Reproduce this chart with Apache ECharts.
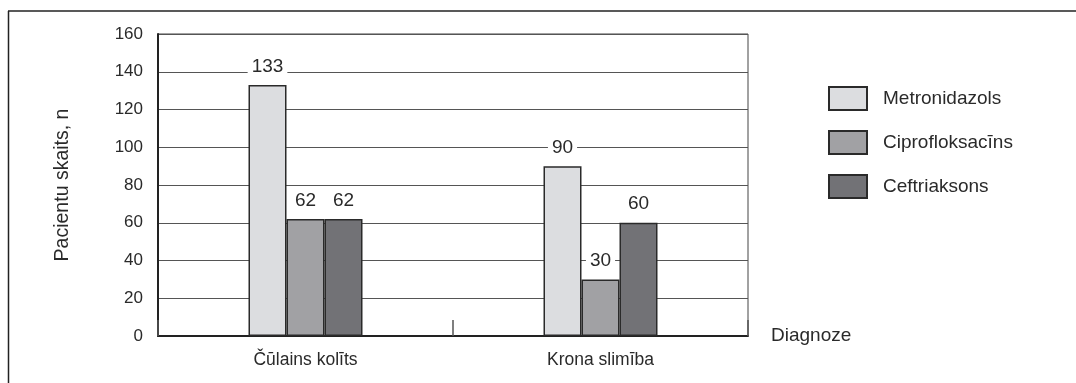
<!DOCTYPE html>
<html lang="lv">
<head>
  <meta charset="UTF-8">
  <title>Pacientu skaits pēc diagnozes</title>
  <style>
    * { margin: 0; padding: 0; }
    #main { width: 1076px; height: 383px; background: #fff; }
  </style>
</head>
<body>
  <div id="main"></div>
  <script src="https://cdn.jsdelivr.net/npm/echarts@6/dist/echarts.min.js"></script>
  <script>
    // dati
    const categories = ['Čūlains kolīts', 'Krona slimība']
    const metronidazols = [133, 90]
    const ciprofloksacins = [62, 30]
    const ceftriaksons = [62, 60]
    const seriesNames = ['Metronidazols', 'Ciprofloksacīns', 'Ceftriaksons']
    const colors = ['#dcdde0', '#a1a1a4', '#727276']

    const font = 'Liberation Sans'
    const textColor = '#2a2a2a'
    const chart = echarts.init(document.getElementById('main'))

    function bar(name, data, color) {
      return {
        name: name,
        type: 'bar',
        data: data,
        barWidth: 38,
        barGap: '0%',
        itemStyle: { color: color, borderColor: '#2a2a2a', borderWidth: 1.5 },
        label: {
          show: true,
          position: 'top',
          distance: 8,
          fontFamily: font,
          fontSize: 19,
          color: textColor,
          backgroundColor: '#fff',
          padding: [1, 4],
          lineHeight: 19
        }
      }
    }

    chart.setOption({
      animation: false,
      color: colors,
      graphic: [
        // rāmis: augšējā un kreisā līnija
        { type: 'line', shape: { x1: 8, y1: 11, x2: 1076, y2: 11 }, style: { stroke: '#222', lineWidth: 1.5 } },
        { type: 'line', shape: { x1: 8.5, y1: 11, x2: 8.5, y2: 383 }, style: { stroke: '#222', lineWidth: 1.5 } }
      ],
      grid: {
        left: 158, right: 328, top: 34, bottom: 47,
        show: true, borderColor: '#444', borderWidth: 1
      },
      legend: {
        orient: 'vertical',
        left: 823, top: 81,
        icon: 'rect',
        itemWidth: 38, itemHeight: 23, itemGap: 19,
        data: seriesNames,
        textStyle: { fontFamily: font, fontSize: 19, color: textColor, padding: [0, 0, 0, 11] }
      },
      xAxis: {
        type: 'category',
        data: categories,
        name: 'Diagnoze',
        nameLocation: 'end',
        nameGap: 23,
        nameTextStyle: { fontFamily: font, fontSize: 19, color: textColor, verticalAlign: 'middle' },
        axisLine: { lineStyle: { color: '#222', width: 2 } },
        axisTick: { show: true, interval: 0, inside: true, length: 16, lineStyle: { color: '#555', width: 1.5 } },
        axisLabel: { fontFamily: font, fontSize: 17.5, color: textColor, margin: 15 }
      },
      yAxis: {
        type: 'value',
        min: 0, max: 160, interval: 20,
        name: 'Pacientu skaits, n',
        nameLocation: 'middle',
        nameGap: 85,
        nameTextStyle: { fontFamily: font, fontSize: 19.5, color: textColor },
        axisLine: { show: true, lineStyle: { color: '#222', width: 2 } },
        axisTick: { show: false },
        axisLabel: { fontFamily: font, fontSize: 17, color: textColor, margin: 15 },
        splitLine: { lineStyle: { color: '#555', width: 1 } }
      },
      series: [
        bar(seriesNames[0], metronidazols, colors[0]),
        bar(seriesNames[1], ciprofloksacins, colors[1]),
        bar(seriesNames[2], ceftriaksons, colors[2])
      ]
    })
  </script>
</body>
</html>
